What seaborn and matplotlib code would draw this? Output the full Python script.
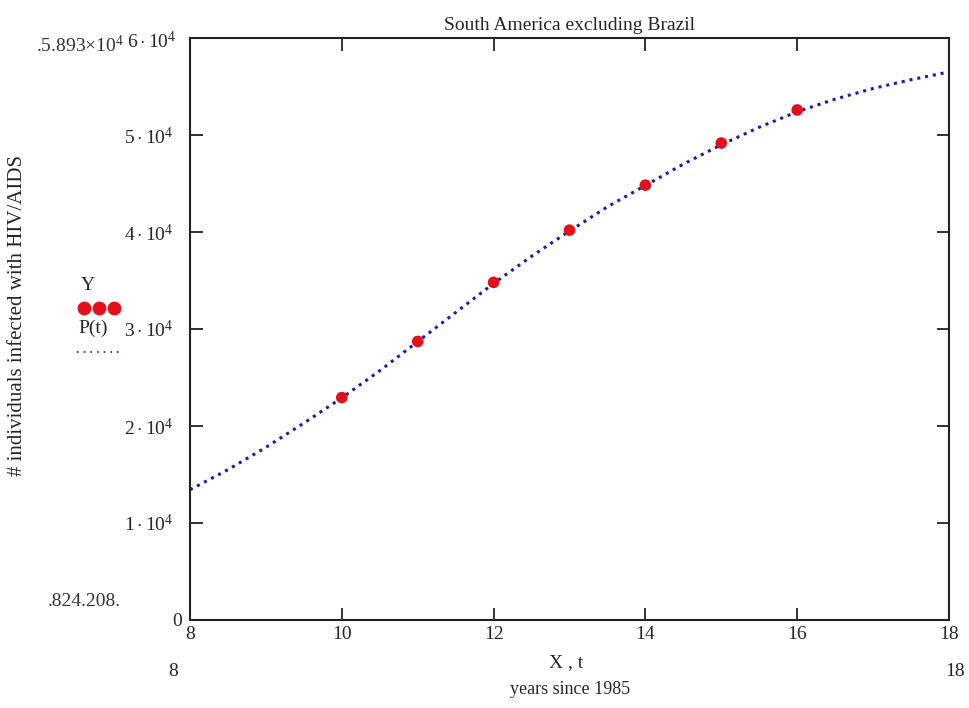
import matplotlib
matplotlib.use("Agg")
import matplotlib.pyplot as plt
import seaborn as sns
import pandas as pd

# Observed counts (Y) by years since 1985
years_obs = [10, 11, 12, 13, 14, 15, 16]
infected_obs = [22930, 28720, 34810, 40190, 44830, 49170, 52580]

# Fitted growth curve P(t)
t_curve = [8.0, 8.5, 9.0, 9.5, 10.0, 10.5, 11.0, 11.5, 12.0, 12.5, 13.0,
           13.5, 14.0, 14.5, 15.0, 15.5, 16.0, 16.5, 17.0, 17.5, 18.0]
p_curve = [13430, 15500, 17800, 20300, 22900, 25700, 28700, 31700, 34700,
           37500, 40100, 42600, 44800, 47000, 49000, 50800, 52400, 53700,
           54800, 55700, 56500]

y_ticks = [10000, 20000, 30000, 40000, 50000]
y_tick_labels = [r"$1\cdot10^{4}$", r"$2\cdot10^{4}$", r"$3\cdot10^{4}$",
                 r"$4\cdot10^{4}$", r"$5\cdot10^{4}$"]
x_ticks = [8, 10, 12, 14, 16, 18]

sns.set_style("white")
plt.rcParams["font.family"] = ["Liberation Serif", "DejaVu Serif"]
plt.rcParams["mathtext.fontset"] = "custom"
plt.rcParams["mathtext.rm"] = "Liberation Serif"
plt.rcParams["mathtext.it"] = "Liberation Serif"

FS = 14

obs = pd.DataFrame({"t": years_obs, "Y": infected_obs})
fit = pd.DataFrame({"t": t_curve, "P": p_curve})

fig = plt.figure(figsize=(9.69, 7.08), dpi=100)
ax = fig.add_axes([190 / 969, 1 - 620 / 708, (949 - 190) / 969, (620 - 38) / 708])

sns.lineplot(data=fit, x="t", y="P", ax=ax, color="#1c1ca8", linewidth=2.2,
             linestyle=(0, (1, 1.6)), zorder=2)
sns.scatterplot(data=obs, x="t", y="Y", ax=ax, color="#e3101c", s=70,
                edgecolor="none", zorder=3)

ax.set_xlim(8, 18)
ax.set_ylim(0, 60000)
ax.set_xlabel("")
ax.set_ylabel("")

ax.set_xticks(x_ticks)
ax.set_xticklabels([str(v) for v in x_ticks], fontsize=FS)
ax.set_yticks(y_ticks)
ax.set_yticklabels(y_tick_labels, fontsize=FS)
ax.tick_params(direction="in", length=9, width=1.3, color="#222222",
               top=True, right=True, bottom=True, left=True)
ax.tick_params(axis="y", pad=12)
ax.tick_params(axis="x", pad=4)
# end ticks coincide with the frame
for tick in ax.xaxis.get_major_ticks():
    if tick.get_loc() in (8, 18):
        tick.tick1line.set_visible(False)
        tick.tick2line.set_visible(False)
for side in ax.spines.values():
    side.set_linewidth(1.5)
    side.set_color("#222222")

ax.set_title("South America excluding Brazil", fontsize=FS, pad=6)

# axis range markers
fig.text(182 / 969, 1 - 621 / 708, "0", fontsize=FS, ha="right", va="center")
fig.text(36 / 969, 1 - 45 / 708, r".5.893$\times$10$^{4}$", fontsize=FS,
         ha="left", va="center", color="#333333")
fig.text(176 / 969, 1 - 41 / 708, r"$6\cdot10^{4}$", fontsize=FS,
         ha="right", va="center")
fig.text(48 / 969, 1 - 602 / 708, ".824.208.", fontsize=FS,
         ha="left", va="center", color="#333333")
fig.text(173 / 969, 1 - 672 / 708, "8", fontsize=FS, ha="center", va="center")
fig.text(955 / 969, 1 - 672 / 708, "18", fontsize=FS, ha="center", va="center")

# axis titles
fig.text(566 / 969, 1 - 663 / 708, "X , t", fontsize=FS, ha="center", va="center")
fig.text(570 / 969, 1 - 690 / 708, "years since 1985", fontsize=13,
         ha="center", va="center")
fig.text(18 / 969, 1 - 316 / 708, "# individuals infected with HIV/AIDS",
         fontsize=15, rotation=90, ha="center", va="center")

# legend block on the left
fig.text(88 / 969, 1 - 285 / 708, "Y", fontsize=FS, ha="center", va="center")
for lx in (84, 99, 114):
    fig.lines.append(plt.Line2D([lx / 969], [1 - 308 / 708], marker="o",
                                markersize=9, color="#e3101c",
                                transform=fig.transFigure))
fig.text(78 / 969, 1 - 328 / 708, "P(t)", fontsize=FS, ha="left", va="center")
fig.lines.append(plt.Line2D([77 / 969, 120 / 969], [1 - 352 / 708] * 2,
                            color="#1c1ca8", linewidth=1.2,
                            linestyle=(0, (1, 3)), transform=fig.transFigure))

fig.savefig("out.png", dpi=100)
